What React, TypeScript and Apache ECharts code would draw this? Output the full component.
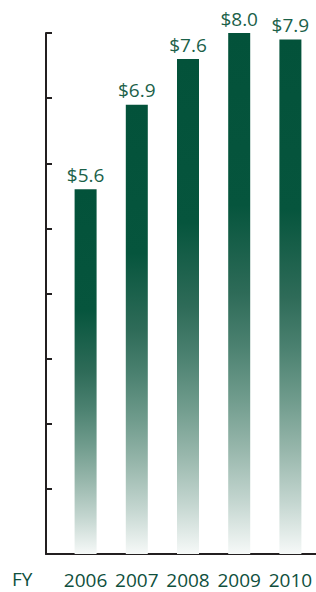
import React, { useEffect, useRef } from "react";
import * as echarts from "echarts";

const years = ["2006", "2007", "2008", "2009", "2010"];
const revenue = [5.6, 6.9, 7.6, 8.0, 7.9];
const yMax = 8;
const yStep = 1;
const axisPrefix = "FY";

export default function App() {
  const ref = useRef<HTMLDivElement>(null);
  useEffect(() => {
    if (!ref.current) return;
    const chart = echarts.init(ref.current, null, { renderer: "svg" });
    const barGradient = new echarts.graphic.LinearGradient(0, 0, 0, 1, [
      { offset: 0, color: "#03523a" },
      { offset: 0.33, color: "#06553d" },
      { offset: 0.5, color: "#2e6b58" },
      { offset: 0.6, color: "#4b8170" },
      { offset: 0.7, color: "#6f9b8c" },
      { offset: 0.8, color: "#98b7ac" },
      { offset: 0.9, color: "#c4d6d0" },
      { offset: 1, color: "#f6f9f8" },
    ]);
    chart.setOption({
      animation: false,
      backgroundColor: "#ffffff",
      textStyle: { fontFamily: "Open Sans" },
      graphic: [
        {
          type: "text",
          left: 12,
          top: 569,
          style: { text: axisPrefix, fontSize: 19, fill: "#0f4f3d", fontFamily: "Open Sans" },
        },
      ],
      grid: [
        { left: 60, right: -6.5, top: 33, bottom: 38 },
        { left: 46, right: 0, top: 33, bottom: 38 },
      ],
      xAxis: [
        {
          type: "category",
          gridIndex: 0,
          data: years,
          axisLine: { show: false },
          axisTick: { show: false },
          axisLabel: {
            color: "#0f4f3d",
            fontSize: 19,
            margin: 16,
            interval: 0,
            hideOverlap: false,
            fontFamily: "Open Sans",
          },
        },
        {
          type: "value",
          gridIndex: 1,
          min: 0,
          max: 1,
          axisLine: { show: true, lineStyle: { color: "#231f20", width: 2 } },
          axisTick: { show: false },
          axisLabel: { show: false },
          splitLine: { show: false },
        },
      ],
      yAxis: [
        {
          type: "value",
          gridIndex: 0,
          min: 0,
          max: yMax,
          interval: yStep,
          offset: 14,
          axisLine: { show: true, lineStyle: { color: "#231f20", width: 2 } },
          axisTick: { show: true, inside: true, length: 6, lineStyle: { color: "#231f20", width: 2 } },
          axisLabel: { show: false },
          splitLine: { show: false },
        },
        {
          type: "value",
          gridIndex: 1,
          show: false,
        },
      ],
      series: [
        {
          type: "bar",
          xAxisIndex: 0,
          yAxisIndex: 0,
          data: revenue,
          barWidth: 22,
          itemStyle: { color: barGradient },
          label: {
            show: true,
            position: "top",
            distance: 5,
            color: "#1b6149",
            fontSize: 19,
            fontFamily: "Open Sans",
            formatter: (p: any) => "$" + Number(p.value).toFixed(1),
          },
        },
      ],
    });
    return () => chart.dispose();
  }, []);
  return (
    <div
      ref={ref}
      style={{ position: "fixed", left: 0, top: 0, width: 316, height: 592 }}
    />
  );
}
